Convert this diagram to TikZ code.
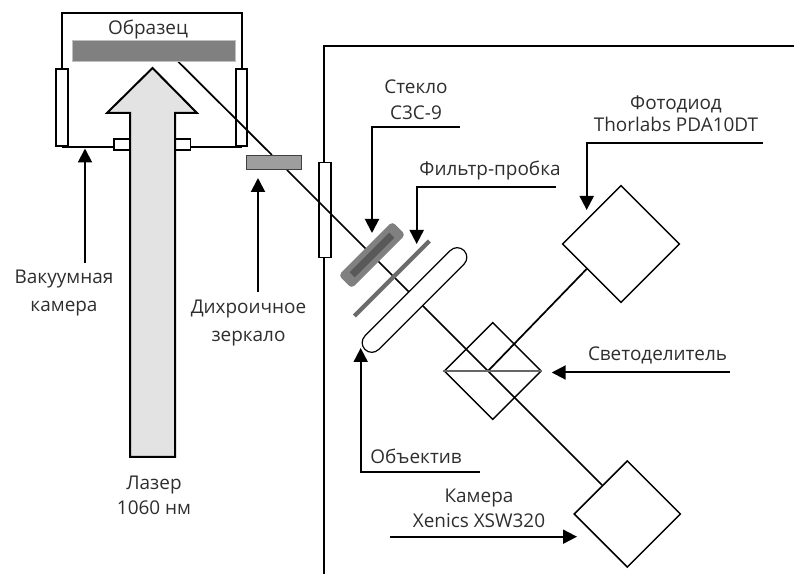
\documentclass[tikz,border=0pt]{standalone}
\usepackage{fontspec}
\setmainfont{Open Sans}
\usetikzlibrary{arrows.meta,shapes.geometric,shapes.misc}
\definecolor{txt}{HTML}{2E2E2E}
\tikzset{
  x=0.75pt,y=-0.75pt,
  lbl/.style={align=center,text=txt,inner sep=0pt,font=\fontsize{14.2pt}{20.3pt}\selectfont},
  wall/.style={draw=black,line width=1.5pt},
  win/.style={draw=black,line width=1.35pt,fill=white,inner sep=0pt,rectangle},
  beam/.style={draw=black,line width=1.3pt},
  lead/.style={draw=black,line width=1.5pt},
  arr/.style={lead,-{Triangle[length=10.5pt,width=10.5pt]}},
  dia/.style={diamond,draw=black,line width=1.1pt,fill=white,inner sep=0pt,aspect=1},
}
\begin{document}
\begin{tikzpicture}
\useasboundingbox (0,0) rectangle (794,574);
% coordinates
\coordinate (c1) at (61.5,69); \coordinate (c2) at (61.5,13.5);
\coordinate (c3) at (242,13.5); \coordinate (c4) at (242,69);
\coordinate (b1) at (62,147); \coordinate (b2) at (242,147);
\coordinate (f1) at (794,46); \coordinate (f2) at (324,46);
\coordinate (f3) at (324,574);
\coordinate (s0) at (178,61.5); \coordinate (m1) at (272,155);
\coordinate (m2) at (287,170); \coordinate (g1) at (366,249);
\coordinate (g2) at (376,259); \coordinate (l1) at (410,293);
\coordinate (l2) at (421,304); \coordinate (cam) at (602,485);
\coordinate (bs) at (488,371); \coordinate (pd) at (587.3,268.3);
% chamber
\draw[wall] (c1) -- (c2) -- (c3) -- (c4);
\draw[wall] (b1) -- (b2);
\node[win,minimum width=12pt,minimum height=8.25pt] (flL) at (122,144.5) {};
\node[win,minimum width=12pt,minimum height=8.25pt] (flR) at (182.5,144.5) {};
\node[win,minimum width=8.6pt,minimum height=57.75pt] (wL) at (62,107.5) {};
\node[win,minimum width=8pt,minimum height=57.75pt] (wR) at (241.5,107.5) {};
\node[win,minimum width=9pt,minimum height=71.25pt] (wF) at (325.3,210) {};
% frame
\draw[wall] (f1) -- (f2) -- (f2 |- wF.north);
\draw[wall] (f2 |- wF.south) -- (f3);
% beam
\draw[beam] (s0) -- (m1);
\draw[beam] (m2) -- (g1);
\draw[beam] (g2) -- (l1);
\draw[beam] (l2) -- (cam);
\draw[beam] (bs) -- (pd);
% sample
\node[fill=black!50,draw=black!25,line width=.4pt,inner sep=0pt,minimum width=122.25pt,minimum height=15.75pt] (sample) at (153.5,50.5) {};
% laser
\draw[lead,fill=black!11,line join=miter] (130,457) -- (130,113) -- (107,113) -- (152.5,68) -- (197,113) -- (175,113) -- (175,457) -- cycle;
% mirror
\node[draw=black!75,line width=1.1pt,fill=black!38,inner sep=0pt,minimum width=41.5pt,minimum height=10.5pt] (mirror) at (274,162.5) {};
% glass, filter, lens
\node[rotate=45,fill=black!50,rounded corners=3pt,inner sep=0pt,minimum width=57pt,minimum height=14pt] (glass) at (372,255) {};
\node[rotate=45,fill=black!65,inner sep=0pt,minimum width=42pt,minimum height=5.5pt] at (glass) {};
\draw[draw=black!58,line width=3.2pt] (429.3,241) coordinate (fa) -- (354.3,316) coordinate (fb);
\node[rotate=45,rounded rectangle,draw=black,line width=.9pt,fill=white,inner sep=0pt,minimum width=105pt,minimum height=14.5pt] (lens) at (414.5,300) {};
% splitter
\node[dia,fill=none,minimum width=73pt,minimum height=73pt] (split) at (492.8,371) {};
\draw[draw=black!60,line width=.8pt] (split.west) -- (split.east);
% detectors
\node[dia,minimum width=88pt,minimum height=88pt] (diode) at (621,244) {};
\node[dia,minimum width=80pt,minimum height=80pt] (camera) at (627.3,514) {};
% labels
\node[lbl] (tS) at (148,30) {Образец};
\node[lbl] (tV) at (64,293) {Вакуумная\\[0pt]камера};
\node[lbl] (tD) at (248.5,323) {Дихроичное\\[0pt]зеркало};
\node[lbl] (tL) at (154,495.5) {Лазер\\[-1.5pt]1060 нм};
\node[lbl] (tG) at (416,100) {Стекло\\[-1pt]С3С-9};
\node[lbl] (tF) at (490,171) {Фильтр-пробка};
\node[lbl] (tP) at (676,114) {Фотодиод\\[-3.5pt]Thorlabs PDA10DT};
\node[lbl] (tB) at (657.5,355) {Светоделитель};
\node[lbl] (tO) at (416,456) {Объектив};
\node[lbl] (tC) at (479,508) {Камера\\[-1.5pt]Xenics XSW320};
% leaders
\coordinate (a1) at (85,263); \coordinate (a2) at (85,148.5);
\draw[arr] (a1) -- (a2);
\coordinate (a3) at (258,292); \coordinate (a4) at (258,178);
\draw[arr] (a3) -- (a4);
\coordinate (a5) at (460,127.5); \coordinate (a6) at (372,127.5); \coordinate (a7) at (372,233);
\draw[arr] (a5) -- (a6) -- (a7);
\coordinate (a8) at (556,186.7); \coordinate (a9) at (416.7,186.7); \coordinate (a10) at (416.7,244);
\draw[arr] (a8) -- (a9) -- (a10);
\coordinate (a11) at (763,142.7); \coordinate (a12) at (586.7,142.7); \coordinate (a13) at (586.7,210);
\draw[arr] (a11) -- (a12) -- (a13);
\coordinate (a14) at (730,372.5); \coordinate (a15) at (551.7,372.5);
\draw[arr] (a14) -- (a15);
\coordinate (a16) at (480,472.3); \coordinate (a17) at (360.7,472.3); \coordinate (a18) at (360.7,348);
\draw[arr] (a16) -- (a17) -- (a18);
\coordinate (a19) at (390,536.7); \coordinate (a20) at (577,536.7);
\draw[arr] (a19) -- (a20);
\end{tikzpicture}
\end{document}
